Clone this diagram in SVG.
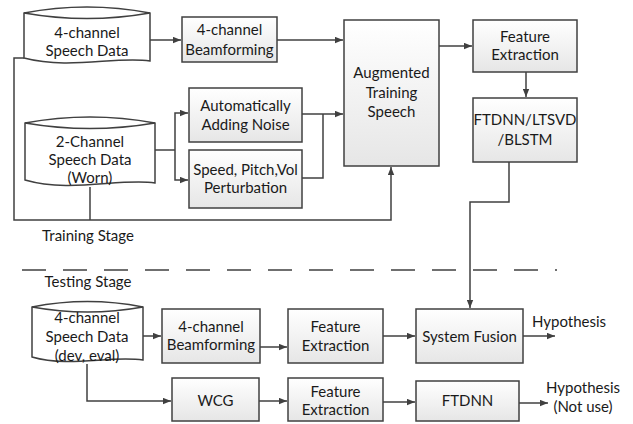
<svg xmlns="http://www.w3.org/2000/svg" width="633" height="424" viewBox="0 0 633 424">
  <defs>
    <linearGradient id="boxFill" x1="0" y1="0" x2="0" y2="1">
      <stop offset="0" stop-color="#ffffff"/>
      <stop offset="1" stop-color="#e6e6e6"/>
    </linearGradient>
    <marker id="arrow" viewBox="0 0 10 8" refX="10" refY="4" markerWidth="8" markerHeight="7" markerUnits="userSpaceOnUse" orient="auto">
      <path d="M0,0 L10,4 L0,8 Z" fill="#404040"/>
    </marker>
  </defs>
  <style>
    .box { fill: url(#boxFill); stroke: #404040; stroke-width: 1.5; }
    .cyl { fill: #ffffff; stroke: #404040; stroke-width: 1.5; }
    .wire { fill: none; stroke: #404040; stroke-width: 1.5; }
    .arr { marker-end: url(#arrow); }
    text { font-family: Lato, "Open Sans", sans-serif; font-size: 15px; fill: #1a1a1a; text-anchor: middle; }
  </style>

  <rect width="633" height="424" fill="#ffffff"/>

  <!-- connectors -->
  <g id="connectors">
    <path class="wire arr" d="M150,40 H181"/>
    <path class="wire arr" d="M277,40 H343"/>
    <path class="wire" d="M155,150 H175"/>
    <path class="wire arr" d="M175,150 V113 H188"/>
    <path class="wire arr" d="M175,150 V180 H188"/>
    <path class="wire arr" d="M302,114 H343"/>
    <path class="wire" d="M302,178 H323 V114"/>
    <path class="wire arr" d="M24,58 H14 V220 H391 V167"/>
    <path class="wire" d="M90,187 V220"/>
    <path class="wire arr" d="M439,46 H472"/>
    <path class="wire arr" d="M526,72 V97"/>
    <path class="wire arr" d="M509,162 V202 H470 V308"/>
    <path class="wire arr" d="M143,336 H161"/>
    <path class="wire arr" d="M260,347 H287"/>
    <path class="wire arr" d="M383,336 H415"/>
    <path class="wire arr" d="M523,336 H555"/>
    <path class="wire arr" d="M87,364 V401 H171"/>
    <path class="wire arr" d="M259,401 H287"/>
    <path class="wire arr" d="M383,402 H415"/>
    <path class="wire arr" d="M519,403 H548"/>
  </g>

  <!-- stage divider -->
  <g id="divider">
    <path d="M22,270 H557" fill="none" stroke="#404040" stroke-width="1.5" stroke-dasharray="24 17"/>
    <text x="88" y="241">Training Stage</text>
    <text x="88" y="287">Testing Stage</text>
  </g>

  <g id="src4ch">
    <path class="cyl" d="M24,13 Q87,1 150,13 V61 C115,56 70,70 24,58 Z"/>
    <path class="cyl" d="M24,13 Q87,24 150,13" fill="none"/>
    <text x="87" y="38">4-channel</text>
    <text x="87" y="56">Speech Data</text>
  </g>

  <g id="beam1">
    <rect class="box" x="182" y="17" width="95" height="45"/>
    <text x="229.5" y="35">4-channel</text>
    <text x="229.5" y="55">Beamforming</text>
  </g>

  <g id="src2ch">
    <path class="cyl" d="M25,123 Q90,111 155,123 V183 C120,178 70,193 25,180 Z"/>
    <path class="cyl" d="M25,123 Q90,134 155,123" fill="none"/>
    <text x="90" y="147">2-Channel</text>
    <text x="90" y="165">Speech Data</text>
    <text x="90" y="183">(Worn)</text>
  </g>

  <g id="noise">
    <rect class="box" x="189" y="88" width="113" height="54"/>
    <text x="245.5" y="110.5">Automatically</text>
    <text x="245.5" y="130">Adding Noise</text>
  </g>

  <g id="perturb">
    <rect class="box" x="189" y="150" width="113" height="58"/>
    <text x="245.5" y="175">Speed, Pitch,Vol</text>
    <text x="245.5" y="193">Perturbation</text>
  </g>

  <g id="augmented">
    <rect class="box" x="344" y="20" width="95" height="146"/>
    <text x="391.5" y="78">Augmented</text>
    <text x="391.5" y="98">Training</text>
    <text x="391.5" y="117">Speech</text>
  </g>

  <g id="feat1">
    <rect class="box" x="473" y="20" width="104" height="52"/>
    <text x="525" y="42">Feature</text>
    <text x="525" y="60">Extraction</text>
  </g>

  <g id="models">
    <rect class="box" x="473" y="98" width="104" height="64"/>
    <text x="525" y="125">FTDNN/LTSVD</text>
    <text x="525" y="145">/BLSTM</text>
  </g>

  <g id="srcTest">
    <path class="cyl" d="M32,307 Q87.5,296 143,307 V360 C110,355 70,368 32,357 Z"/>
    <path class="cyl" d="M32,307 Q87.5,317 143,307" fill="none"/>
    <text x="87" y="323">4-channel</text>
    <text x="87" y="342">Speech Data</text>
    <text x="87" y="361">(dev, eval)</text>
  </g>

  <g id="beam2">
    <rect class="box" x="162" y="309" width="98" height="54"/>
    <text x="211" y="332">4-channel</text>
    <text x="211" y="350">Beamforming</text>
  </g>

  <g id="feat2">
    <rect class="box" x="288" y="309" width="95" height="54"/>
    <text x="335.5" y="332">Feature</text>
    <text x="335.5" y="351">Extraction</text>
  </g>

  <g id="fusion">
    <rect class="box" x="416" y="309" width="107" height="54"/>
    <text x="469.5" y="342">System Fusion</text>
  </g>

  <g id="hyp1">
    <text x="569" y="327">Hypothesis</text>
  </g>

  <g id="wcg">
    <rect class="box" x="172" y="378" width="87" height="43"/>
    <text x="215.5" y="406">WCG</text>
  </g>

  <g id="feat3">
    <rect class="box" x="288" y="378" width="95" height="43"/>
    <text x="335.5" y="397">Feature</text>
    <text x="335.5" y="415">Extraction</text>
  </g>

  <g id="ftdnn">
    <rect class="box" x="416" y="381" width="103" height="40"/>
    <text x="467.5" y="406">FTDNN</text>
  </g>

  <g id="hyp2">
    <text x="583" y="393">Hypothesis</text>
    <text x="583" y="412">(Not use)</text>
  </g>
</svg>
